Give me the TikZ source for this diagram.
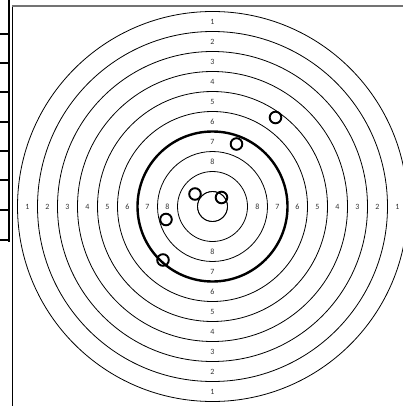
\documentclass[tikz,border=0pt]{standalone}
\usepackage{fontspec}
\setmainfont{Carlito}
\begin{document}
\begin{tikzpicture}[x=1pt,y=-1pt,
  ring/.style={draw=black,line width=0.8pt},
  thickring/.style={draw=black,line width=2.4pt},
  hole/.style={draw=black,line width=1.9pt},
  lbl/.style={font=\fontsize{8}{9}\selectfont,text=black!80,inner sep=0pt},
  cell/.style={draw=black,line width=1.1pt}]
\useasboundingbox (0,0) rectangle (403,406);
\coordinate (C) at (212.5,206.5);
% left strip (cut-off table)
\coordinate (s0) at (9,0);
\coordinate (s1) at (9,242);
\draw[cell] (s0) -- (s1);
\foreach \yy in {34,63,92,122,151,180,210,240}{
  \draw[cell] (0,\yy) -- (9,\yy);
}
% frame
\coordinate (fTL) at (12,6);
\coordinate (fBL) at (12,406);
\coordinate (fTR) at (403,6);
\draw[black,line width=0.9pt] (fTL) -- (fBL);
\draw[black!55,line width=1.5pt] (fTL) -- (fTR);
\begin{scope}
\clip (12.5,7) rectangle (403,406);
\foreach \k in {0,...,9}{
  \pgfmathsetmacro\rr{195-20*\k}
  \draw[ring] (C) circle[radius=\rr pt];
}
\draw[ring] (C) circle[radius=15pt];
\draw[thickring] (C) circle[radius=75pt];
\foreach \k in {1,...,8}{
  \pgfmathsetmacro\rr{185-20*(\k-1)}
  \node[lbl] (lt\k) at (212.5,206.5-\rr) {\k};
  \node[lbl] (lb\k) at (212.5,206.5+\rr) {\k};
  \node[lbl] (ll\k) at (212.5-\rr,206.5) {\k};
  \node[lbl] (lr\k) at (212.5+\rr,206.5) {\k};
}
\end{scope}
% shot holes
\coordinate (h1) at (275.5,117.5);
\coordinate (h2) at (236.5,144);
\coordinate (h3) at (195,194);
\coordinate (h4) at (221.5,197.5);
\coordinate (h5) at (166,219.5);
\coordinate (h6) at (163,260);
\foreach \h in {h1,h2,h3,h4,h5,h6}{
  \draw[hole] (\h) circle[radius=5.8pt];
}
\end{tikzpicture}
\end{document}
